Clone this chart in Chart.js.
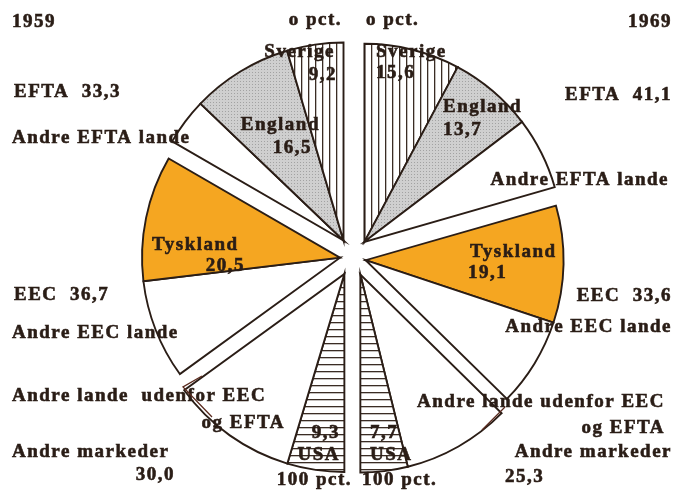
<!DOCTYPE html>
<html>
<head>
<meta charset="utf-8">
<script src="https://cdn.jsdelivr.net/npm/chart.js@4/dist/chart.umd.min.js"></script>
<style>
  html, body { margin: 0; padding: 0; background: #fff; }
  #wrap { width: 679px; height: 490px; position: relative; }
</style>
</head>
<body>
<div id="wrap"><canvas id="pies" width="679" height="490"></canvas></div>
<script>
// --- data (shares of export, pct.) ---
const categories = ['Sverige', 'England', 'Andre EFTA lande', 'Tyskland', 'Andre EEC lande', 'Andre lande udenfor EEC og EFTA', 'USA'];
const groupOf = [0, 0, 0, 1, 1, 2, 2];
const groupNames = ['EFTA', 'EEC', 'Andre markeder'];
const shares1959 = [9.2, 16.5, 7.6, 20.5, 16.2, 20.7, 9.3];
const shares1969 = [15.6, 13.7, 11.8, 19.1, 14.5, 17.6, 7.7];
const groupTotals1959 = [33.3, 36.7, 30.0];
const groupTotals1969 = [41.1, 33.6, 25.3];
const years = ['1959', '1969'];
const axisLabels = ['o pct.', '100 pct.'];

const INK = '#2a1d16';
const ORANGE = '#f5a621';
const FONT = 'bold 19px "Liberation Serif", serif';
const groupOffset = [19, 13, 19];

const fmt = v => v.toFixed(1).replace('.', ',');

// patterns
function stripes(vertical, gap) {
    const c = document.createElement('canvas');
    c.width = gap; c.height = gap;
    const g = c.getContext('2d');
    g.fillStyle = '#fff'; g.fillRect(0, 0, gap, gap);
    g.fillStyle = '#3a2c24';
    if (vertical) g.fillRect(0, 0, 1.3, gap); else g.fillRect(0, 0, gap, 1.3);
    return g.createPattern(c, 'repeat');
}
function stipple() {
    const c = document.createElement('canvas');
    c.width = 3; c.height = 3;
    const g = c.getContext('2d');
    g.fillStyle = '#cfcfcf'; g.fillRect(0, 0, 3, 3);
    g.fillStyle = '#a2a2a2';
    g.fillRect(0, 0, 1, 1);
    return g.createPattern(c, 'repeat');
}
const fills = [stripes(true, 7), stipple(), '#ffffff', ORANGE, '#ffffff', '#ffffff', stripes(false, 7)];

// right half: 1969 clockwise from top, left half: 1959 from bottom back to top
const order1959 = shares1959.map((_, i) => i).reverse();
const pieData = shares1969.concat(order1959.map(i => shares1959[i]));
const pieCat = categories.map((_, i) => i).concat(order1959);
const pieColors = pieCat.map(i => fills[i]);

// move each group of slices out from the centre along the group's bisector
const groupExplode = {
    id: 'groupExplode',
    afterDatasetsUpdate(chart) {
        const arcs = chart.getDatasetMeta(0).data;
        const runs = [];
        pieCat.forEach((c, k) => {
            const half = k < 7 ? 0 : 1;
            const key = half + ':' + groupOf[c];
            if (!runs.length || runs[runs.length - 1].key !== key) runs.push({ key, g: groupOf[c], idx: [] });
            runs[runs.length - 1].idx.push(k);
        });
        runs.forEach(r => {
            const a0 = arcs[r.idx[0]].startAngle;
            const a1 = arcs[r.idx[r.idx.length - 1]].endAngle;
            const mid = (a0 + a1) / 2;
            const d = groupOffset[r.g];
            r.idx.forEach(k => {
                arcs[k].x += Math.cos(mid) * d;
                arcs[k].y += Math.sin(mid) * d;
            });
        });
    }
};

function txt(ctx, s, x, y, align = 'left') {
    ctx.textAlign = align;
    ctx.fillText(s, x, y);
    ctx.strokeText(s, x, y);
}

const labelPlugin = {
    id: 'labels',
    afterDraw(chart) {
        const ctx = chart.ctx;
        ctx.save();
        ctx.fillStyle = INK;
        ctx.strokeStyle = INK;
        ctx.lineWidth = 0.6;
        ctx.font = FONT;
        ctx.letterSpacing = '1.5px';
        ctx.textBaseline = 'middle';

        // headers / axis ends
        txt(ctx, years[0], 12, 22);
        txt(ctx, years[1], 672, 22, 'right');
        txt(ctx, axisLabels[0], 342, 20, 'right');
        txt(ctx, axisLabels[0], 366, 20);
        txt(ctx, axisLabels[1], 352, 480, 'right');
        txt(ctx, axisLabels[1], 362, 480);

        // group totals
        txt(ctx, groupNames[0] + '  ' + fmt(groupTotals1959[0]), 14, 92);
        txt(ctx, groupNames[0] + '  ' + fmt(groupTotals1969[0]), 672, 95, 'right');
        txt(ctx, groupNames[1] + '  ' + fmt(groupTotals1959[1]), 14, 295);
        txt(ctx, groupNames[1] + '  ' + fmt(groupTotals1969[1]), 672, 296, 'right');
        txt(ctx, groupNames[2], 12, 452);
        txt(ctx, fmt(groupTotals1959[2]), 175, 475, 'right');
        txt(ctx, groupNames[2], 672, 452, 'right');
        txt(ctx, fmt(groupTotals1969[2]), 505, 477);

        // outside slice names
        txt(ctx, categories[2], 12, 138);
        txt(ctx, categories[2], 669, 180, 'right');
        txt(ctx, categories[4], 12, 333);
        txt(ctx, categories[4], 672, 327, 'right');
        txt(ctx, 'Andre lande  udenfor EEC', 12, 396);
        txt(ctx, 'og EFTA', 285, 423, 'right');
        txt(ctx, 'Andre lande udenfor EEC', 665, 402, 'right');
        txt(ctx, 'og EFTA', 665, 428, 'right');

        // inside slice names and values, 1959
        txt(ctx, categories[0], 335, 52, 'right');
        txt(ctx, fmt(shares1959[0]), 337, 75, 'right');
        txt(ctx, categories[1], 320, 125, 'right');
        txt(ctx, fmt(shares1959[1]), 312, 148, 'right');
        txt(ctx, categories[3], 152, 245);
        txt(ctx, fmt(shares1959[3]), 245, 266, 'right');
        txt(ctx, fmt(shares1959[6]), 340, 433, 'right');
        txt(ctx, categories[6], 340, 455, 'right');

        // inside slice names and values, 1969
        txt(ctx, categories[0], 376, 52);
        txt(ctx, fmt(shares1969[0]), 376, 73);
        txt(ctx, categories[1], 443, 107);
        txt(ctx, fmt(shares1969[1]), 443, 130);
        txt(ctx, categories[3], 470, 252);
        txt(ctx, fmt(shares1969[3]), 468, 273);
        txt(ctx, fmt(shares1969[6]), 370, 433);
        txt(ctx, categories[6], 370, 455);

        // leader strokes
        ctx.strokeStyle = '#5a2a1e';
        ctx.lineWidth = 1.3;
        ctx.beginPath();
        ctx.moveTo(202, 376); ctx.lineTo(183, 387); ctx.lineTo(212, 417);
        ctx.moveTo(505, 407); ctx.lineTo(482, 430);
        ctx.stroke();
        ctx.restore();
    }
};

new Chart(document.getElementById('pies'), {
    type: 'pie',
    data: {
        labels: pieCat.map(i => categories[i]),
        datasets: [{
            data: pieData,
            backgroundColor: pieColors,
            borderColor: INK,
            borderWidth: 1.9,
            borderJoinStyle: 'miter',
            radius: 198
        }]
    },
    options: {
        responsive: false,
        animation: false,
        events: [],
        layout: { padding: { left: 27, top: 24, right: 0, bottom: 0 } },
        plugins: { legend: { display: false }, tooltip: { enabled: false } }
    },
    plugins: [groupExplode, labelPlugin]
});
</script>
</body>
</html>
